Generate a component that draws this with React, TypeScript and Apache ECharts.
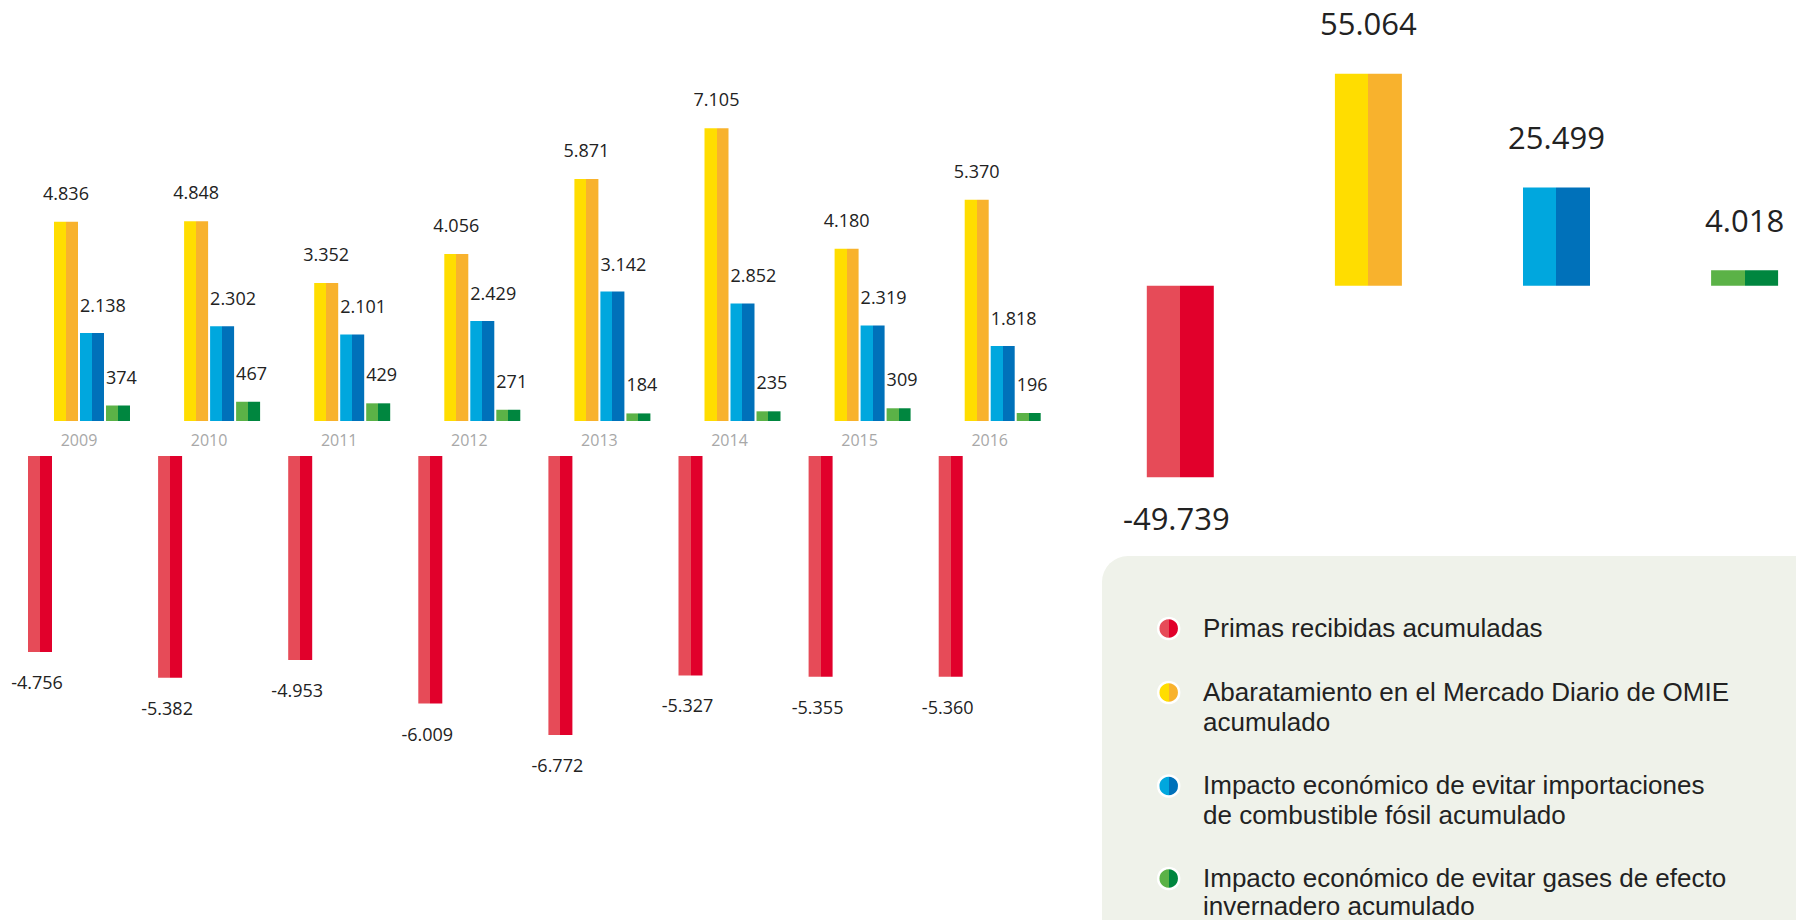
import React, { useEffect, useRef } from "react";
import * as echarts from "echarts";

const years = ["2009", "2010", "2011", "2012", "2013", "2014", "2015", "2016"];
const primas = [-4756, -5382, -4953, -6009, -6772, -5327, -5355, -5360];
const abaratamiento = [4836, 4848, 3352, 4056, 5871, 7105, 4180, 5370];
const importaciones = [2138, 2302, 2101, 2429, 3142, 2852, 2319, 1818];
const gases = [374, 467, 429, 271, 184, 235, 309, 196];

const totalCategories = ["Primas", "Abaratamiento", "Importaciones", "Gases"];
const totals = [-49739, 55064, 25499, 4018];

const seriesNames = [
  "Primas recibidas acumuladas",
  "Abaratamiento en el Mercado Diario de OMIE acumulado",
  "Impacto económico de evitar importaciones de combustible fósil acumulado",
  "Impacto económico de evitar gases de efecto invernadero acumulado",
];
const legendLines = [
  ["Primas recibidas acumuladas"],
  ["Abaratamiento en el Mercado Diario de OMIE", "acumulado"],
  ["Impacto económico de evitar importaciones", "de combustible fósil acumulado"],
  ["Impacto económico de evitar gases de efecto", "invernadero acumulado"],
];

const palette = [
  ["#E64B58", "#E1002B"],
  ["#FFDD00", "#F8B22D"],
  ["#00A7DE", "#0071BA"],
  ["#5BB247", "#00863F"],
];

const grad = (c: string[]) =>
  new echarts.graphic.LinearGradient(0, 0, 1, 0, [
    { offset: 0, color: c[0] },
    { offset: 0.5, color: c[0] },
    { offset: 0.5, color: c[1] },
    { offset: 1, color: c[1] },
  ]);

const fmt = (v: number) => {
  const s = Math.abs(Math.round(v))
    .toString()
    .replace(/\B(?=(\d{3})+(?!\d))/g, ".");
  return (v < 0 ? "-" : "") + s;
};

const NUM_FONT = "'Open Sans', 'Noto Sans', sans-serif";
const LEGEND_FONT = "'Liberation Sans', Arial, sans-serif";

export default function App() {
  const ref = useRef<HTMLDivElement>(null);

  useEffect(() => {
    if (!ref.current) return;
    const chart = echarts.init(ref.current, undefined, { renderer: "svg" });

    const catW = 130.1;
    const leftL = 13.95;
    const pxPerUnit = 0.0412;
    const topMax = 8000;
    const botMin = -8000;
    const baseTop = 421;
    const baseBot = 456;

    const totCatW = 188.1;
    const totPx = 0.00385;
    const totBase = 285.7;
    const totMax = 60000;

    const barCommon = {
      type: "bar" as const,
      barWidth: 24,
      barGap: "8.33%",
    };
    const nulls = years.map(() => null);
    const lblBase = {
      show: true,
      color: "#222",
      fontSize: 18,
      fontFamily: NUM_FONT,
      formatter: (p: any) => fmt(p.value),
    };

    const legendY = [[627.5], [691.5, 721.5], [785, 815], [877.5, 906]];
    const graphic: any[] = [
      {
        type: "rect",
        z: -10,
        shape: { x: 1102, y: 556, width: 760, height: 420, r: 26 },
        style: { fill: "#EFF2EA" },
      },
    ];
    legendLines.forEach((lines, i) => {
      graphic.push({
        type: "circle",
        shape: { cx: 1168.7, cy: legendY[i][0] + 1, r: 10.5 },
        style: { fill: grad(palette[i]), stroke: "#ffffff", lineWidth: 2.5 },
      });
      lines.forEach((t, j) => {
        graphic.push({
          type: "text",
          x: 1203,
          y: legendY[i][j],
          style: {
            text: t,
            fill: "#222222",
            fontSize: 26,
            fontFamily: LEGEND_FONT,
            verticalAlign: "middle",
            align: "left",
          },
        });
      });
    });

    const option: any = {
      animation: false,
      backgroundColor: "#ffffff",
      grid: [
        {
          left: leftL,
          width: catW * years.length,
          top: baseTop - topMax * pxPerUnit,
          height: topMax * pxPerUnit,
          outerBoundsMode: "none",
          containLabel: false,
        },
        {
          left: leftL,
          width: catW * years.length,
          top: baseBot,
          height: -botMin * pxPerUnit,
          outerBoundsMode: "none",
          containLabel: false,
        },
        {
          left: 1180.3 - totCatW / 2,
          width: totCatW * totalCategories.length,
          top: totBase - totMax * totPx,
          height: 2 * totMax * totPx,
          outerBoundsMode: "none",
          containLabel: false,
        },
      ],
      xAxis: [
        {
          type: "category",
          gridIndex: 0,
          data: years,
          axisLine: { show: false },
          axisTick: { show: false },
          axisLabel: {
            color: "#a8a8a8",
            fontSize: 16,
            margin: 11,
            fontFamily: NUM_FONT,
          },
        },
        {
          type: "category",
          gridIndex: 1,
          data: years,
          show: false,
        },
        {
          type: "category",
          gridIndex: 2,
          data: totalCategories,
          show: false,
        },
      ],
      yAxis: [
        { type: "value", gridIndex: 0, min: 0, max: topMax, show: false, splitLine: { show: false } },
        { type: "value", gridIndex: 1, min: botMin, max: 0, show: false, splitLine: { show: false } },
        { type: "value", gridIndex: 2, min: -totMax, max: totMax, show: false, splitLine: { show: false } },
      ],
      graphic,
      series: [
        // top grid
        { ...barCommon, name: seriesNames[0] + " ", xAxisIndex: 0, yAxisIndex: 0, data: nulls, silent: true },
        {
          ...barCommon,
          name: seriesNames[1],
          xAxisIndex: 0,
          yAxisIndex: 0,
          data: abaratamiento,
          itemStyle: { color: grad(palette[1]) },
          label: { ...lblBase, position: "top", distance: 20 },
        },
        {
          ...barCommon,
          name: seriesNames[2],
          xAxisIndex: 0,
          yAxisIndex: 0,
          data: importaciones,
          itemStyle: { color: grad(palette[2]) },
          label: { ...lblBase, position: "top", distance: 19, align: "left", offset: [-12, 0] },
        },
        {
          ...barCommon,
          name: seriesNames[3],
          xAxisIndex: 0,
          yAxisIndex: 0,
          data: gases,
          itemStyle: { color: grad(palette[3]) },
          label: { ...lblBase, position: "top", distance: 20, align: "left", offset: [-12, 0] },
        },
        // bottom grid
        {
          ...barCommon,
          name: seriesNames[0],
          xAxisIndex: 1,
          yAxisIndex: 1,
          data: primas,
          itemStyle: { color: grad(palette[0]) },
          label: { ...lblBase, position: "bottom", distance: 21, offset: [-3, 0] },
        },
        { ...barCommon, name: seriesNames[1] + " ", xAxisIndex: 1, yAxisIndex: 1, data: nulls, silent: true },
        { ...barCommon, name: seriesNames[2] + " ", xAxisIndex: 1, yAxisIndex: 1, data: nulls, silent: true },
        { ...barCommon, name: seriesNames[3] + " ", xAxisIndex: 1, yAxisIndex: 1, data: nulls, silent: true },
        // totals
        {
          type: "bar",
          name: "Total acumulado",
          xAxisIndex: 2,
          yAxisIndex: 2,
          barWidth: 67,
          data: totals.map((v, i) => ({
            value: v,
            itemStyle: { color: grad(palette[i]) },
            label: {
              show: true,
              position: v < 0 ? "bottom" : "top",
              distance: v < 0 ? 25 : 35,
              offset: v < 0 ? [-4, 0] : [0, 0],
              color: "#222",
              fontSize: 31,
              fontFamily: NUM_FONT,
              formatter: (p: any) => fmt(p.value),
            },
          })),
        },
      ],
    };

    chart.setOption(option);
    return () => chart.dispose();
  }, []);

  return (
    <div
      ref={ref}
      style={{ position: "fixed", left: 0, top: 0, width: 1796, height: 920 }}
    />
  );
}
